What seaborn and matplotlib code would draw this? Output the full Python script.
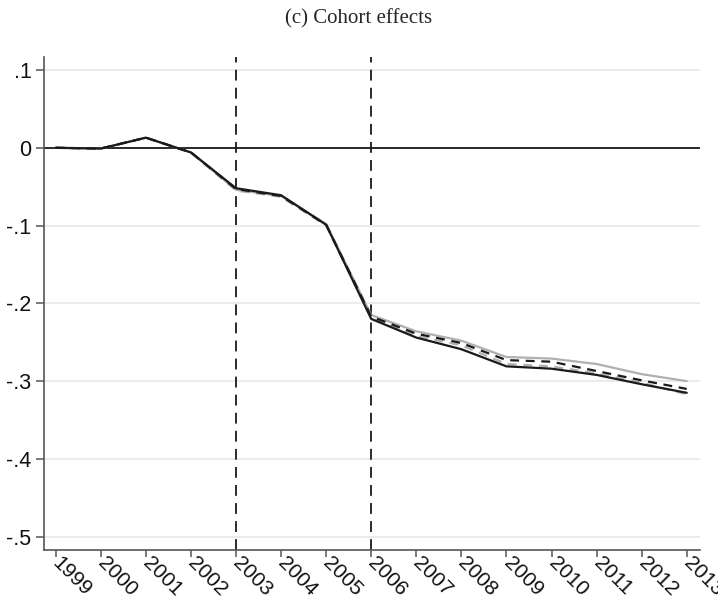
import matplotlib
matplotlib.use("Agg")
import matplotlib.pyplot as plt
import seaborn as sns
import pandas as pd

years = list(range(1999, 2014))
solid_black = [0.0, -0.001, 0.013, -0.006, -0.052, -0.061, -0.099, -0.220, -0.244, -0.259, -0.281, -0.284, -0.292, -0.304, -0.315]
dashed_black = [0.0, -0.001, 0.013, -0.006, -0.053, -0.062, -0.099, -0.217, -0.239, -0.251, -0.273, -0.275, -0.287, -0.299, -0.310]
solid_gray = [0.0, -0.001, 0.013, -0.006, -0.054, -0.062, -0.098, -0.215, -0.236, -0.248, -0.269, -0.271, -0.278, -0.291, -0.300]
dashed_gray = [0.0, -0.001, 0.013, -0.006, -0.055, -0.063, -0.100, -0.219, -0.242, -0.254, -0.278, -0.281, -0.290, -0.302, -0.317]
vlines = [2003, 2006]
yticks = [0.1, 0.0, -0.1, -0.2, -0.3, -0.4, -0.5]
ytick_labels = [".1", "0", "-.1", "-.2", "-.3", "-.4", "-.5"]
title = "(c) Cohort effects"

sns.set_style("white")
plt.rcParams['font.family'] = ['Liberation Sans', 'DejaVu Sans']

fig = plt.figure(figsize=(7.18, 6.01), dpi=100)
ax = fig.add_axes([0.0613, 0.085, 0.914, 0.820])

for y in yticks:
    ax.axhline(y, color="#e8e8e8", lw=1.2, zorder=0)

series = [
    (solid_gray, "#b0b0b0", "-"),
    (dashed_gray, "#b0b0b0", (0, (4, 3))),
    (dashed_black, "#1a1a1a", (0, (4, 3))),
    (solid_black, "#1a1a1a", "-"),
]
for vals, col, ls in series:
    df = pd.DataFrame({"year": years, "value": vals})
    sns.lineplot(data=df, x="year", y="value", ax=ax, color=col, lw=1.6, linestyle=ls, zorder=3)

ax.axhline(0, color="#1a1a1a", lw=1.3, zorder=2)
for v in vlines:
    ax.axvline(v, color="#1a1a1a", lw=1.3, linestyle=(0, (6, 4)), zorder=2)

ax.set_xlim(1998.74, 2013.30)
ax.set_ylim(-0.517, 0.1166)
ax.set_yticks(yticks)
ax.set_yticklabels(ytick_labels, fontsize=15.5)
ax.set_xticks(years)
ax.set_xticklabels([str(y) for y in years], fontsize=15, rotation=-45, ha="left", va="center", rotation_mode="anchor")
ax.set_xlabel("")
ax.set_ylabel("")

for s in ["top", "right"]:
    ax.spines[s].set_visible(False)
for s in ["left", "bottom"]:
    ax.spines[s].set_color("#555555")
    ax.spines[s].set_linewidth(1.2)
ax.tick_params(axis="y", direction="out", length=6, width=1.1, color="#555555", labelcolor="#111111", pad=3)
ax.tick_params(axis="x", direction="out", length=5, width=1.1, color="#555555", labelcolor="#111111", pad=2.5)
ax.tick_params(axis="both", bottom=True, left=True)

fig.text(0.5, 0.968, title, ha="center", va="center", fontsize=15, family=["Liberation Serif", "DejaVu Serif"])

fig.savefig("out.png", dpi=100)
